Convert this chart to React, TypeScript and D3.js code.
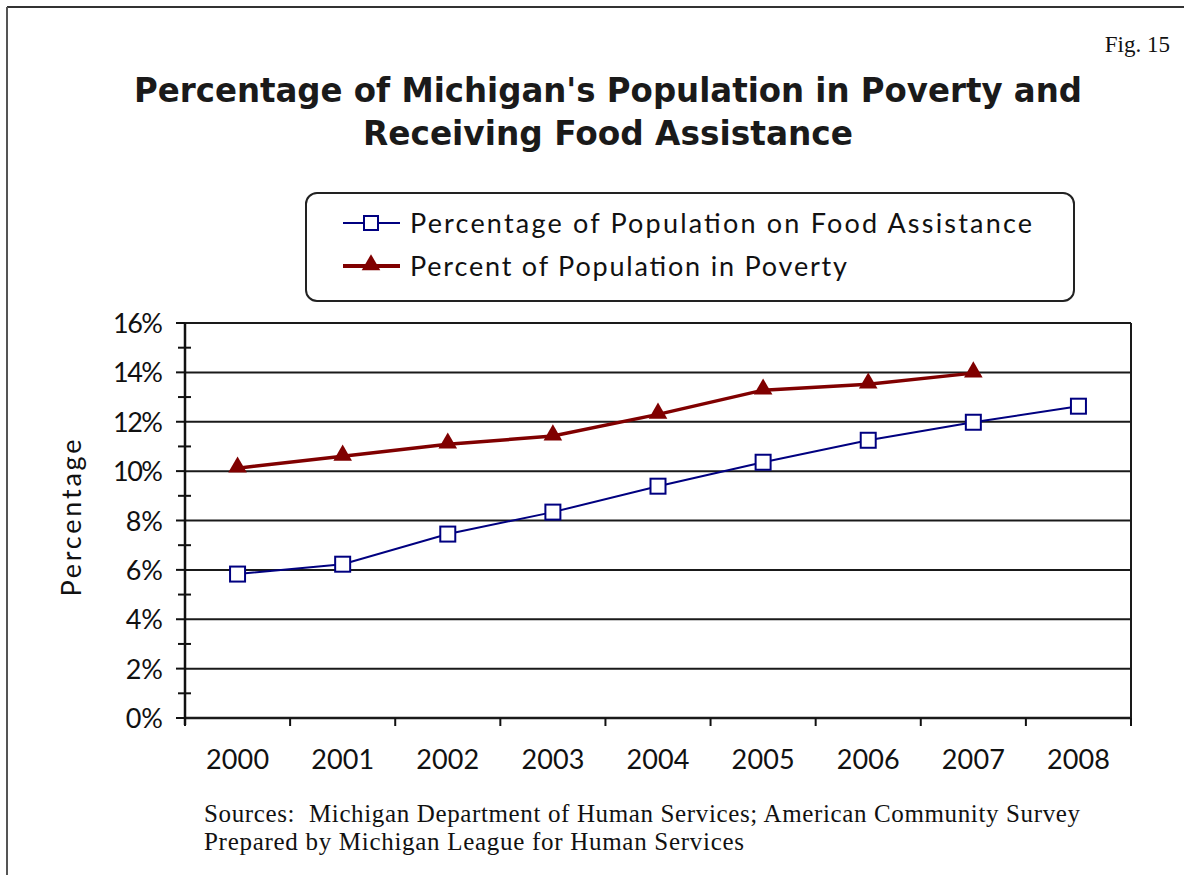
import React from "react";
import * as d3 from "d3";

const years = ["2000", "2001", "2002", "2003", "2004", "2005", "2006", "2007", "2008"];
const foodAssistance = [5.83, 6.23, 7.45, 8.34, 9.39, 10.36, 11.25, 11.98, 12.63];
const poverty = [10.12, 10.6, 11.09, 11.42, 12.3, 13.28, 13.52, 13.97];
const yTicks = [0, 2, 4, 6, 8, 10, 12, 14, 16];
const yMinorTicks = [1, 3, 5, 7, 9, 11, 13, 15];

const W = 1184;
const H = 875;
const plot = { left: 185, right: 1131, top: 323, bottom: 718 };
const gothic = "'Century Gothic', 'URW Gothic', 'DejaVu Sans', sans-serif";
const gothicLight = "'Century Gothic', 'URW Gothic', Lato, sans-serif";
const serif = "'Liberation Serif', 'Times New Roman', serif";

export default function App() {
  const x = d3.scaleBand<string>().domain(years).range([plot.left, plot.right]).padding(0);
  const y = d3.scaleLinear().domain([0, 16]).range([plot.bottom, plot.top]);
  const cx = (yr: string) => (x(yr) as number) + x.bandwidth() / 2;

  const lineGen = d3
    .line<[string, number]>()
    .x((d) => cx(d[0]))
    .y((d) => y(d[1]));

  const foodPts: [string, number][] = foodAssistance.map((v, i) => [years[i], v]);
  const povPts: [string, number][] = poverty.map((v, i) => [years[i], v]);

  const tri = d3.symbol().type(d3.symbolTriangle).size(150)();
  const boundaries = years.map((yr) => x(yr) as number).concat([plot.right]);

  return (
    <svg width={W} height={H} style={{ display: "block", position: "absolute", left: 0, top: 0 }}>
      <rect x={0} y={0} width={W} height={H} fill="#fff" />
      {/* frame */}
      <line x1={7} y1={7} x2={W} y2={7} stroke="#333" strokeWidth={2} />
      <line x1={7} y1={7} x2={7} y2={H} stroke="#555" strokeWidth={2} />

      <text x={1170} y={52} textAnchor="end" fontFamily={serif} fontSize={23} fill="#111">
        Fig. 15
      </text>

      <text x={134} y={102} fontFamily={gothic} fontWeight="bold" fontSize={33} fill="#1a1a1a" textLength={948} lengthAdjust="spacingAndGlyphs">
        Percentage of Michigan's Population in Poverty and
      </text>
      <text x={363} y={145} fontFamily={gothic} fontWeight="bold" fontSize={33} fill="#1a1a1a" textLength={490} lengthAdjust="spacingAndGlyphs">
        Receiving Food Assistance
      </text>

      {/* legend */}
      <rect x={306} y={193} width={768} height={108} rx={11} ry={11} fill="#fff" stroke="#222" strokeWidth={2} />
      <line x1={343} y1={223} x2={400} y2={223} stroke="#000080" strokeWidth={2} />
      <rect x={364} y={216} width={14} height={14} fill="#fff" stroke="#000080" strokeWidth={2} />
      <text x={410} y={233} fontFamily={gothicLight} fontSize={27} fill="#111" textLength={622} lengthAdjust="spacing">
        Percentage of Population on Food Assistance
      </text>
      <line x1={343} y1={266} x2={400} y2={266} stroke="#800000" strokeWidth={4} />
      <path d={tri as string} transform="translate(371,265)" fill="#800000" />
      <text x={410} y={276} fontFamily={gothicLight} fontSize={27} fill="#111" textLength={437} lengthAdjust="spacing">
        Percent of Population in Poverty
      </text>

      {/* gridlines */}
      {yTicks.map((t) => (
        <line key={"g" + t} x1={plot.left} x2={plot.right} y1={y(t)} y2={y(t)} stroke="#1a1a1a" strokeWidth={t === 0 ? 2.5 : 2} />
      ))}
      {/* right border */}
      <line x1={plot.right} x2={plot.right} y1={plot.top} y2={plot.bottom + 7} stroke="#1a1a1a" strokeWidth={2} />
      {/* y axis */}
      <line x1={plot.left} x2={plot.left} y1={plot.top} y2={plot.bottom + 7} stroke="#111" strokeWidth={2.5} />
      {yTicks.map((t) => {
        const label = `${t}%`;
        return (
          <g key={"yt" + t}>
            <line x1={plot.left - 9} x2={plot.left} y1={y(t)} y2={y(t)} stroke="#111" strokeWidth={2} />
            {label.length === 3 ? (
              <text x={163} y={y(t) + 10} textAnchor="end" fontFamily={gothicLight} fontSize={27} fill="#111" textLength={50} lengthAdjust="spacing">
                {label}
              </text>
            ) : (
              <text x={163} y={y(t) + 10} textAnchor="end" fontFamily={gothicLight} fontSize={27} fill="#111">
                {label}
              </text>
            )}
          </g>
        );
      })}
      {yMinorTicks.map((t) => (
        <line key={"ym" + t} x1={plot.left - 7} x2={plot.left + 6} y1={y(t)} y2={y(t)} stroke="#111" strokeWidth={2} />
      ))}
      {/* x ticks */}
      {boundaries.map((b, i) => (
        <line key={"xt" + i} x1={b} x2={b} y1={plot.bottom} y2={plot.bottom + 8} stroke="#111" strokeWidth={2} />
      ))}
      {years.map((yr) => (
        <text
          key={"xl" + yr}
          x={cx(yr)}
          y={769}
          textAnchor="middle"
          fontFamily={gothicLight}
          fontSize={27}
          fill="#111"
          textLength={63}
          lengthAdjust="spacing"
        >
          {yr}
        </text>
      ))}

      <text
        transform={`translate(81,518) rotate(-90)`}
        textAnchor="middle"
        fontFamily={gothicLight}
        fontSize={27}
        fill="#111"
        textLength={157}
        lengthAdjust="spacing"
      >
        Percentage
      </text>

      {/* series */}
      <path d={lineGen(povPts) as string} fill="none" stroke="#800000" strokeWidth={3.5} />
      <path d={lineGen(foodPts) as string} fill="none" stroke="#000080" strokeWidth={2} />
      {povPts.map((p) => (
        <path key={"p" + p[0]} d={tri as string} transform={`translate(${cx(p[0])},${y(p[1]) - 1})`} fill="#800000" />
      ))}
      {foodPts.map((p) => (
        <rect key={"f" + p[0]} x={cx(p[0]) - 7.5} y={y(p[1]) - 7.5} width={15} height={15} fill="#fff" stroke="#000080" strokeWidth={2} />
      ))}

      <text x={204} y={822} fontFamily={serif} fontSize={25} fill="#111" textLength={876} lengthAdjust="spacing" style={{ whiteSpace: "pre" }}>
        {"Sources:  Michigan Department of Human Services; American Community Survey"}
      </text>
      <text x={204} y={850} fontFamily={serif} fontSize={25} fill="#111" textLength={540} lengthAdjust="spacing">
        Prepared by Michigan League for Human Services
      </text>
    </svg>
  );
}
